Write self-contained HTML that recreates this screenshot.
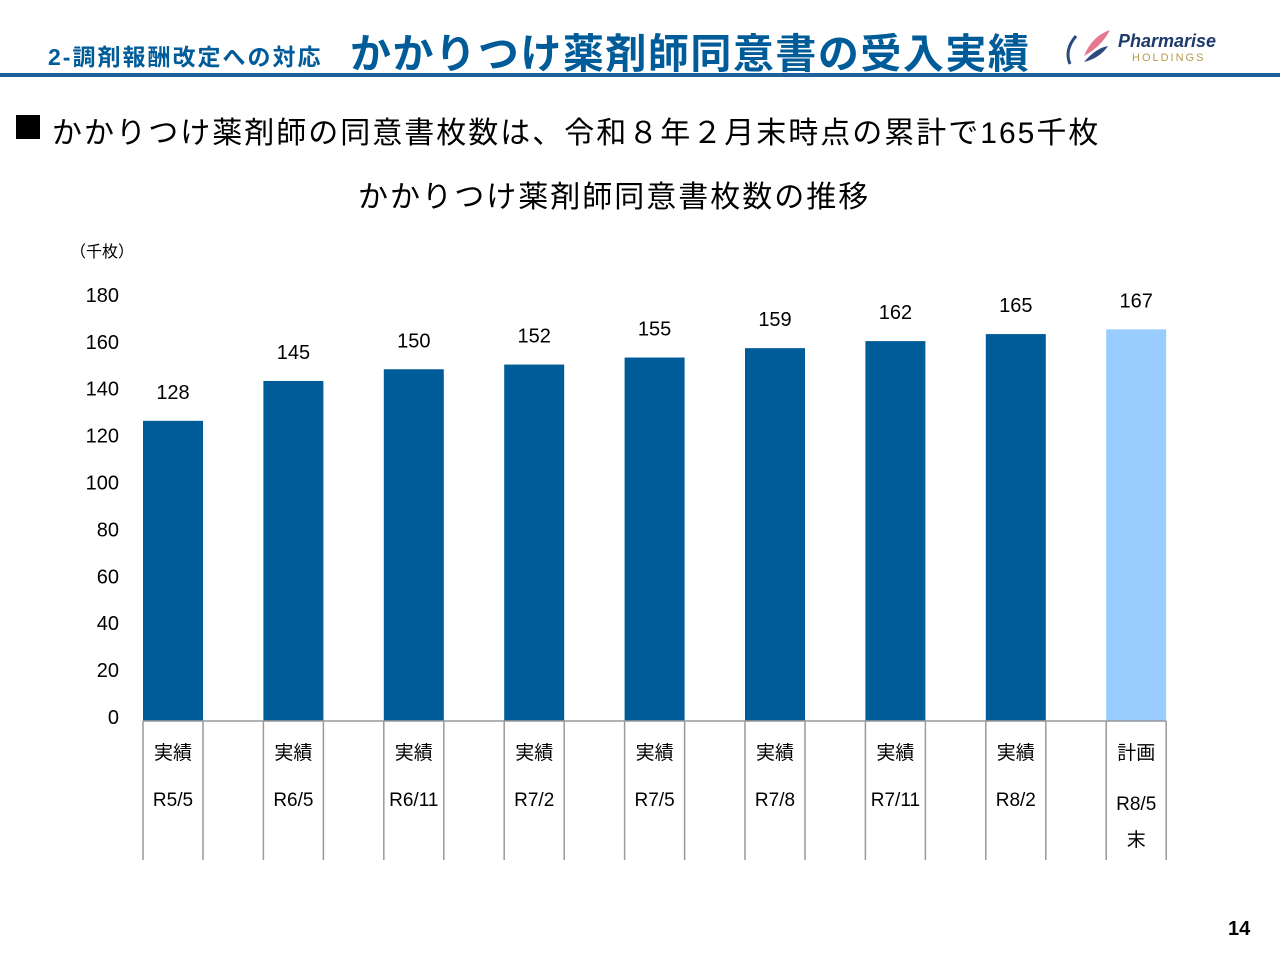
<!DOCTYPE html>
<html><head><meta charset="utf-8"><style>
body{margin:0;width:1280px;height:960px;background:#fff;font-family:"Liberation Sans","Noto Sans CJK JP",sans-serif;overflow:hidden;position:relative}
.a{position:absolute;white-space:nowrap}
</style></head><body>
<div class="a" style="left:48px;top:38px;font-size:23px;font-weight:bold;color:#005b99;letter-spacing:2px">2-調剤報酬改定への対応</div>
<div class="a" style="left:350px;top:20px;font-size:41px;font-weight:bold;color:#005b99;letter-spacing:1.5px">かかりつけ薬剤師同意書の受入実績</div>
<div class="a" style="left:1062px;top:26px;width:170px;height:44px">
<svg width="50" height="44" style="position:absolute;left:0;top:0"><path d="M14 10 Q2 24 8 38" stroke="#2a4a80" stroke-width="3" fill="none"/><path d="M22 30 Q30 10 48 4 Q40 20 22 30Z" fill="#e4788f"/><path d="M22 36 Q34 22 46 20 Q38 32 22 36Z" fill="#2a4a80"/></svg>
<div class="a" style="left:56px;top:5px;font-size:18px;font-weight:bold;font-style:italic;color:#1e3a6a">Pharmarise</div>
<div class="a" style="left:70px;top:26px;font-size:11px;letter-spacing:2px;color:#b89a50">HOLDINGS</div></div>
<div class="a" style="left:0;top:73px;width:1280px;height:4px;background:#1f5f9a"></div>
<div class="a" style="left:16px;top:115px;width:24px;height:24px;background:#000"></div>
<div class="a" style="left:52px;top:108px;font-size:30px;color:#000;letter-spacing:2px">かかりつけ薬剤師の同意書枚数は、令和８年２月末時点の累計で165千枚</div>
<div class="a" style="left:358px;top:172px;font-size:30px;color:#000;letter-spacing:2px">かかりつけ薬剤師同意書枚数の推移</div>
<div class="a" style="left:70px;top:238px;font-size:16px">（千枚）</div>
<svg id="c" class="a" style="left:0;top:0" width="1280" height="960"></svg>
<div class="a" style="left:1228px;top:918px;font-size:20px;font-weight:bold">14</div>
<script>
const categories=["R5/5","R6/5","R6/11","R7/2","R7/5","R7/8","R7/11","R8/2","R8/5末"];
const kinds=["実績","実績","実績","実績","実績","実績","実績","実績","計画"];
const values=[128,145,150,152,155,159,162,165,167];
const ticks=[0,20,40,60,80,100,120,140,160,180];
const svg=document.getElementById('c');const NS="http://www.w3.org/2000/svg";
const y0=721,ppu=2.345,x0=143,pitch=120.4,bw=60;
const y=v=>y0-v*ppu,x=i=>x0+i*pitch;
function mk(t,a,txt){const e=document.createElementNS(NS,t);for(const k in a)e.setAttribute(k,a[k]);if(txt!==undefined)e.textContent=txt;svg.appendChild(e);return e;}
ticks.forEach(t=>{const e=mk('text',{x:119,y:y(t)+3,'text-anchor':'end','font-size':20},t);

});
values.forEach((v,i)=>{const last=i===values.length-1;
const r=mk('rect',{x:x(i),y:y(v),width:bw,height:y0-y(v),fill:last?'#99ccff':'#005b99'});


const l=mk('text',{x:x(i)+bw/2,y:y(v)-22,'text-anchor':'middle','font-size':20},v);


[x(i),x(i)+bw].forEach(xx=>{const ln=mk('line',{x1:xx,x2:xx,y1:y0,y2:860,stroke:'#999','stroke-width':1.5});

});
const k=mk('text',{x:x(i)+bw/2,y:759,'text-anchor':'middle','font-size':19},kinds[i]);


const c=categories[i];
if(c.endsWith('末')){const a=mk('text',{x:x(i)+bw/2,y:810,'text-anchor':'middle','font-size':19},c.slice(0,-1));


const b=mk('text',{x:x(i)+bw/2,y:846,'text-anchor':'middle','font-size':19},'末');

}
else{const a=mk('text',{x:x(i)+bw/2,y:806,'text-anchor':'middle','font-size':19},c);

}
});
const ax=mk('line',{x1:x0,x2:x(values.length-1)+bw,y1:y0,y2:y0,stroke:'#999','stroke-width':1.5});


</script>
</body></html>
